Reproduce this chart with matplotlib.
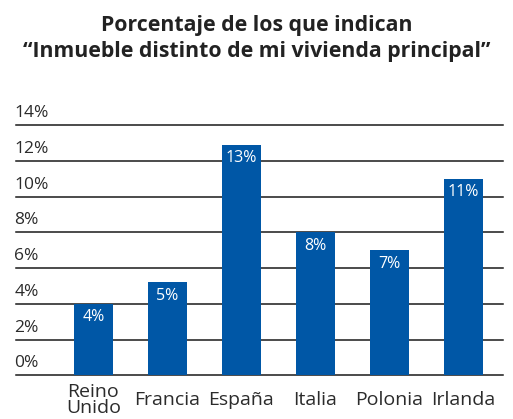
import matplotlib.pyplot as plt

plt.rcParams['font.family'] = ['Open Sans', 'DejaVu Sans']

paises = ['Reino\nUnido', 'Francia', 'España', 'Italia', 'Polonia', 'Irlanda']
valores = [4.0, 5.2, 12.9, 8.0, 7.0, 11.0]
etiquetas = ['4%', '5%', '13%', '8%', '7%', '11%']
ticks_y = [0, 2, 4, 6, 8, 10, 12, 14]

azul = '#0057a6'
texto = '#2b2b2b'

fig = plt.figure(figsize=(5.13, 4.19), dpi=100)
ax = fig.add_axes([16 / 513, 1 - 375.3 / 419, 487 / 513, 250.3 / 419])

x = list(range(len(paises)))
ax.bar(x, valores, width=0.527, color=azul, zorder=3)

# lineas horizontales con la etiqueta encima
for t in ticks_y:
    ax.axhline(t, color='#1a1a1a', lw=1.1, zorder=1, clip_on=False)
    ax.text(-1.07, t + 0.22, f'{t}%', fontsize=12.5, color=texto,
            ha='left', va='bottom')

# valores dentro de las barras
for xi, v, e in zip(x, valores, etiquetas):
    ax.text(xi, v - 0.3, e, fontsize=11.5, color='white', ha='center', va='top', zorder=4)

# nombres de paises centrados bajo cada barra
for xi, p in zip(x, paises):
    ax.text(xi, -0.1, p, transform=ax.get_xaxis_transform(), fontsize=14,
            color=texto, ha='center', va='center', linespacing=0.88)

ax.set_xlim(-1.047, 5.534)
ax.set_ylim(0, 14)
ax.set_xticks([])
ax.set_yticks([])
for s in ax.spines.values():
    s.set_visible(False)

fig.text(0.5, 0.909, 'Porcentaje de los que indican\n“Inmueble distinto de mi vivienda principal”',
         ha='center', va='center', fontsize=15.3, fontweight='bold', color='#222222',
         linespacing=1.3)

fig.savefig('out.png', dpi=100)
